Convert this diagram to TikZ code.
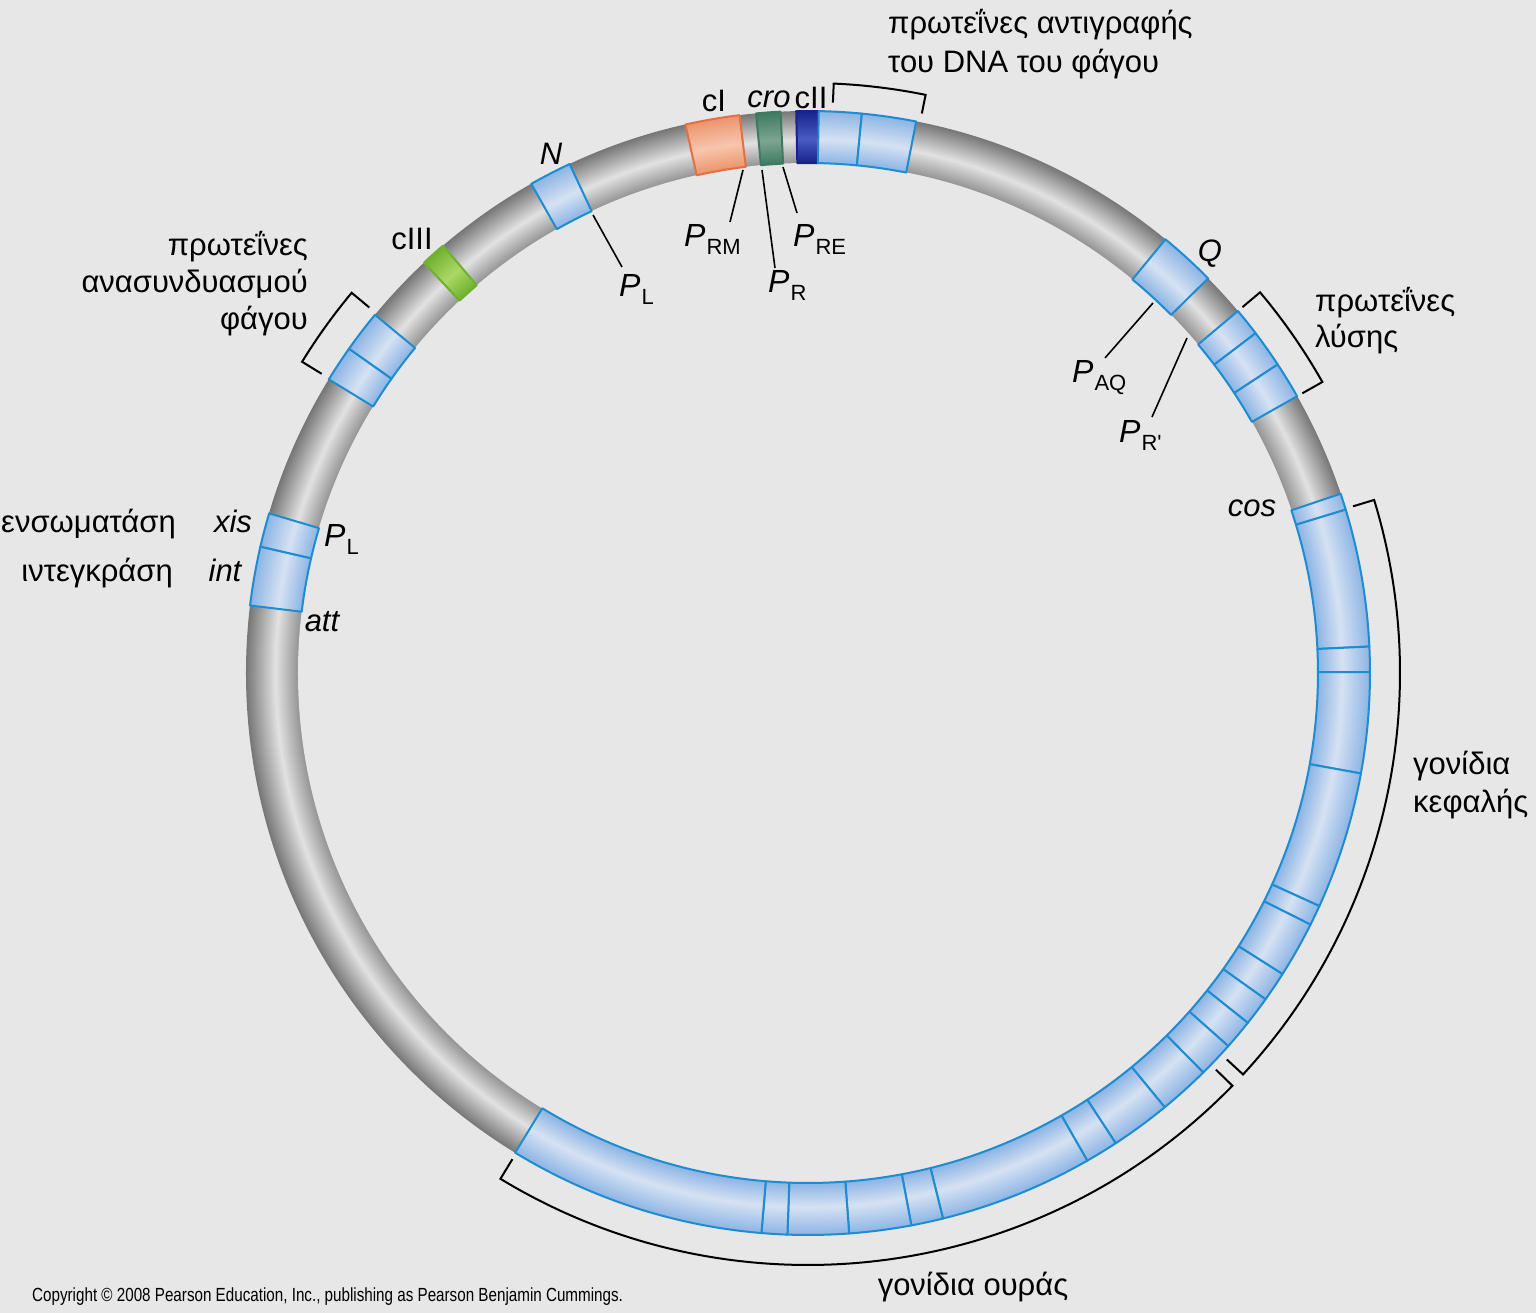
\documentclass[tikz,border=0pt]{standalone}
\usepackage{fontspec}
\setmainfont{Liberation Sans}
\newfontfamily\narrowfont[FakeStretch=0.8]{Liberation Sans}
\usepackage{xcolor}
\usetikzlibrary{positioning}
\definecolor{BgGray}{RGB}{231,231,231}
\definecolor{TubeInner}{RGB}{148,148,148}
\definecolor{TubeLight}{RGB}{226,226,226}
\definecolor{TubeOuter}{RGB}{118,118,118}
\definecolor{GeneBlue}{RGB}{140,180,228}
\definecolor{GeneBlueLt}{RGB}{214,226,243}
\definecolor{GeneLine}{RGB}{30,140,208}
\definecolor{CIOrange}{RGB}{236,148,108}
\definecolor{CIOrangeLt}{RGB}{247,198,172}
\definecolor{CIEdge}{RGB}{226,112,66}
\definecolor{CroGreen}{RGB}{62,122,98}
\definecolor{CroGreenLt}{RGB}{125,165,145}
\definecolor{CIIBlue}{RGB}{24,34,140}
\definecolor{CIIBlueLt}{RGB}{72,92,196}
\definecolor{CIIIGreen}{RGB}{112,176,48}
\definecolor{CIIIGreenLt}{RGB}{172,216,102}

\def\rout{562}
\def\rin{510}
% tube look: 25bp of the shading = outer radius of the ring
\newcommand{\tubeshading}[3]{%
  \pgfdeclareradialshading{#1}{\pgfpoint{0bp}{0bp}}{color(0bp)=(#2);
    color(22.69bp)=(#2); color(23.75bp)=(#3); color(25bp)=(#2); color(50bp)=(#2)}}
\pgfdeclareradialshading{tubegray}{\pgfpoint{0bp}{0bp}}{color(0bp)=(TubeInner);
  color(22.69bp)=(TubeInner); color(23.7bp)=(TubeLight); color(25bp)=(TubeOuter);
  color(50bp)=(TubeOuter)}
\tubeshading{tubeblue}{GeneBlue}{GeneBlueLt}
\tubeshading{tubeorange}{CIOrange}{CIOrangeLt}
\tubeshading{tubecro}{CroGreen}{CroGreenLt}
\tubeshading{tubecii}{CIIBlue}{CIIBlueLt}
\tubeshading{tubeciii}{CIIIGreen}{CIIIGreenLt}

% one gene block on the ring: from angle, to angle, shading, edge colour
\newcommand{\ringblock}[4]{%
  \begin{scope}
    \clip (#1:\rout) arc[start angle=#1, end angle=#2, radius=\rout]
      -- (#2:\rin) arc[start angle=#2, end angle=#1, radius=\rin] -- cycle;
    \shade[shading=#3] (0,0) circle[radius=\rout];
  \end{scope}
  \draw[draw=#4, line width=2, line join=round]
    (#1:\rout) arc[start angle=#1, end angle=#2, radius=\rout]
    -- (#2:\rin) arc[start angle=#2, end angle=#1, radius=\rin] -- cycle;}
% bracket beside the ring: from angle, to angle, tip radius, back radius
\newcommand{\ringbracket}[4]{%
  \draw[bracket] (#1:#3) -- (#1:#4) arc[start angle=#1, end angle=#2, radius=#4] -- (#2:#3);}
\newcommand{\prom}[1]{\textit{P}\kern1pt\raisebox{-8pt}{\fontsize{22}{22}\selectfont #1}}

\begin{document}
\begin{tikzpicture}[x=1pt, y=1pt,
    glabel/.style={font=\fontsize{31}{36}\selectfont, inner sep=0pt},
    gname/.style={font=\fontsize{31}{36}\selectfont, inner sep=0pt, anchor=base},
    gital/.style={font=\fontsize{31}{36}\selectfont\itshape, inner sep=0pt, anchor=base},
    pname/.style={font=\fontsize{32}{36}\selectfont, inner sep=0pt, anchor=base west},
    bracket/.style={draw=black, line width=2, line join=miter},
    pline/.style={draw=black, line width=1.6}
  ]
  \fill[BgGray] (-808,-640) rectangle (728,673);
  \useasboundingbox (-808,-640) rectangle (728,673);

  % the ring
  \shade[shading=tubegray] (0,0) circle[radius=\rout];
  \fill[BgGray] (0,0) circle[radius=\rin];

  % regulatory genes
  \ringblock{102.6}{97}{tubeorange}{CIEdge}
  \ringblock{95.3}{92.8}{tubecro}{CroGreen}
  \ringblock{91.2}{88.9}{tubecii}{CIIBlue}
  \ringblock{133.1}{130.5}{tubeciii}{CIIIGreen}

  % blue genes
  \foreach \a/\b in {88.9/84.5, 84.5/78.9, 119.5/115.1, 148.5/144.75, 144.75/140.4,
                     173.1/167, 167/163.5, 50.5/44.6, 40.1/37.2, 37.2/33.3, 33.3/29.5}
    {\ringblock{\a}{\b}{tubeblue}{GeneLine}}
  \foreach \a/\b in {18.6/16.9, 16.9/2.7, 2.7/0.1, 0.1/-10.3, -10.3/-24.5,
                     -24.5/-26.6, -26.6/-32.4, -32.4/-35.5, -35.5/-38.5, -38.5/-41.6,
                     -41.6/-45.3, -45.3/-50.6, -50.6/-56.8, -56.8/-60.2, -60.2/-76.1,
                     -76.1/-79.4, -79.4/-85.8, -85.8/-92.1, -92.1/-94.75, -94.75/-121.4}
    {\ringblock{\a}{\b}{tubeblue}{GeneLine}}

  % brackets
  \ringbracket{87.5}{78.5}{571}{590}
  \ringbracket{140.2}{148.4}{571}{594}
  \ringbracket{40.1}{29.5}{568}{591}
  \ringbracket{17}{-42.7}{570}{592}
  \ringbracket{-44.2}{-121.3}{569}{592}

  % gene names
  \node[gname] (cI)   at (-94,561)  {cI};
  \node[gital] (cro)  at (-39,565)  {cro};
  \node[gname] (cII)  at (3,564)    {cII};
  \node[gital] (N)    at (-257,508) {N};
  \node[gname] (cIII) at (-396,423) {cIII};
  \node[gital] (Q)    at (402,411)  {Q};
  \node[gital] (cos)  at (444,156)  {cos};
  \node[gital] (xis)  at (-575,140) {xis};
  \node[gital] (int)  at (-583,91)  {int};
  \node[gital] (att)  at (-486,41)  {att};

  % promoters
  \node[pname] (PRM)  at (-124,426) {\prom{RM}};
  \node[pname] (PR)   at (-40,380)  {\prom{R}};
  \node[pname] (PRE)  at (-15,426)  {\prom{RE}};
  \node[pname] (PLt)  at (-189,376) {\prom{L}};
  \node[pname] (PAQ)  at (264,290)  {\prom{AQ}};
  \node[pname] (PRp)  at (311,230)  {\prom{R\textquotesingle}};
  \node[pname] (PLl)  at (-484,126) {\prom{L}};

  \coordinate (prm-a) at (-65,503);  \coordinate (prm-b) at (-78,451);
  \coordinate (pr-a)  at (-46,503);  \coordinate (pr-b)  at (-33,405);
  \coordinate (pre-a) at (-25,506);  \coordinate (pre-b) at (-11,460);
  \coordinate (pl-a)  at (-215,458); \coordinate (pl-b)  at (-186,406);
  \coordinate (paq-a) at (345,370);  \coordinate (paq-b) at (297,315);
  \coordinate (prp-a) at (379,335);  \coordinate (prp-b) at (344,256);
  \draw[pline] (prm-a) -- (prm-b);
  \draw[pline] (pr-a) -- (pr-b);
  \draw[pline] (pre-a) -- (pre-b);
  \draw[pline] (pl-a) -- (pl-b);
  \draw[pline] (paq-a) -- (paq-b);
  \draw[pline] (prp-a) -- (prp-b);

  % group labels
  \node[glabel, anchor=base west] (repl1) at (80,639) {πρωτεΐνες αντιγραφής};
  \node[glabel, anchor=base west] (repl2) at ([yshift=-39]repl1.base west) {του DNA του φάγου};
  \node[glabel, anchor=base east] (reco1) at (-500,417) {πρωτεΐνες};
  \node[glabel, anchor=base east] (reco2) at ([yshift=-37]reco1.base east) {ανασυνδυασμού};
  \node[glabel, anchor=base east] (reco3) at ([yshift=-37]reco2.base east) {φάγου};
  \node[glabel, anchor=base east] (excis) at (-632,140) {ενσωματάση};
  \node[glabel, anchor=base east] (integ) at (-635,91)  {ιντεγκράση};
  \node[glabel, anchor=base west] (lys1)  at (507,361)  {πρωτεΐνες};
  \node[glabel, anchor=base west] (lys2)  at ([yshift=-36]lys1.base west) {λύσης};
  \node[glabel, anchor=base west] (head1) at (605,-102) {γονίδια};
  \node[glabel, anchor=base west] (head2) at ([yshift=-38]head1.base west) {κεφαλής};
  \node[glabel, anchor=base] (tail) at (165,-622) {γονίδια ουράς};

  \node[font=\narrowfont\fontsize{19}{22}\selectfont, inner sep=0pt, anchor=base west]
    (copy) at (-776,-628) {Copyright © 2008 Pearson Education, Inc., publishing as Pearson Benjamin Cummings.};
\end{tikzpicture}
\end{document}
